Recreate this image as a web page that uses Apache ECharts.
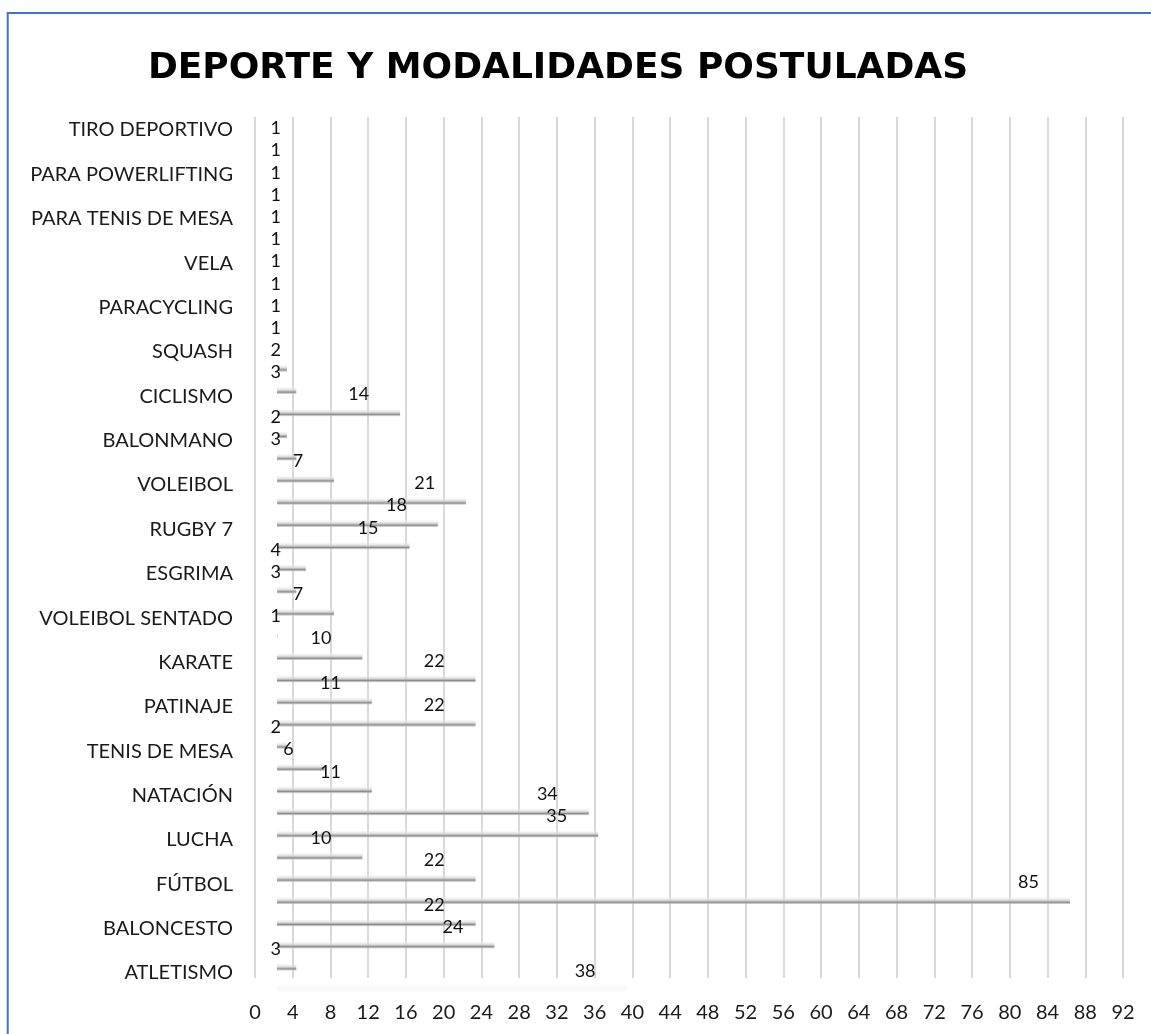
<!DOCTYPE html>
<html>
<head>
<meta charset="utf-8">
<title>Deporte y modalidades postuladas</title>
<script src="https://cdn.jsdelivr.net/npm/echarts@6/dist/echarts.min.js"></script>
<style>
  html, body { margin: 0; padding: 0; background: #ffffff; }
  #chart { width: 1151px; height: 1034px; }
</style>
</head>
<body>
<div id="chart"></div>
<script>
// Sports shown on the vertical axis, top to bottom
const deportes = [
  'TIRO DEPORTIVO', 'PARA POWERLIFTING', 'PARA TENIS DE MESA', 'VELA', 'PARACYCLING',
  'SQUASH', 'CICLISMO', 'BALONMANO', 'VOLEIBOL', 'RUGBY 7', 'ESGRIMA',
  'VOLEIBOL SENTADO', 'KARATE', 'PATINAJE', 'TENIS DE MESA', 'NATACIÓN',
  'LUCHA', 'FÚTBOL', 'BALONCESTO', 'ATLETISMO'
];

// Applications per modality, one bar each, in drawing order (top to bottom)
const postulaciones = [
  1, 1, 1, 1, 1, 1, 1, 1, 1, 1,
  2, 3, 14, 2, 3, 7, 21, 18, 15, 4,
  3, 7, 1, 10, 22, 11, 22, 2, 6, 11,
  34, 35, 10, 22, 85, 22, 24, 3, 38
];

// Value axis ticks
const ejeMin = 0;
const ejeMax = 92;
const ejeIntervalo = 4;

const FONT = 'Lato, "Noto Sans", sans-serif';
const barSlots = postulaciones.map((_, i) => 'm' + (i + 1));

const chart = echarts.init(document.getElementById('chart'), null, { renderer: 'canvas' });

const barGradient = new echarts.graphic.LinearGradient(0, 0, 0, 1, [
  { offset: 0.0, color: 'rgba(245,245,245,0.25)' },
  { offset: 0.45, color: 'rgba(210,210,210,0.8)' },
  { offset: 0.75, color: 'rgba(140,140,140,1)' },
  { offset: 1.0, color: 'rgba(200,200,200,0.6)' }
]);

const option = {
  backgroundColor: '#ffffff',
  animation: false,
  title: {
    text: 'DEPORTE Y MODALIDADES POSTULADAS',
    left: 553,
    top: 46,
    textAlign: 'center',
    textStyle: {
      fontFamily: '"DejaVu Sans", sans-serif',
      fontWeight: 'bold',
      fontSize: 36,
      color: '#000000'
    }
  },
  graphic: [
    {
      type: 'polyline',
      silent: true,
      shape: { points: [[7.7, 1034], [7.7, 13], [1151, 13]] },
      style: { stroke: '#4472C4', lineWidth: 2, fill: null }
    }
  ],
  grid: [
    // gridlines and value labels
    { left: 255, right: 28, top: 117, bottom: 56, containLabel: false },
    // sport names
    { left: 255, right: 28, top: 107.8, bottom: 38.8, containLabel: false },
    // bars
    { left: 277, right: 28, top: 135.4, bottom: 33.6, containLabel: false }
  ],
  xAxis: [
    {
      gridIndex: 0, type: 'value', min: ejeMin, max: ejeMax, interval: ejeIntervalo,
      axisLine: { show: false }, axisTick: { show: false },
      splitLine: { show: true, lineStyle: { color: '#d9d9d9', width: 2 } },
      axisLabel: { margin: 25, fontFamily: FONT, fontSize: 20, color: '#1a1a1a' }
    },
    { gridIndex: 1, type: 'value', show: false, min: ejeMin, max: ejeMax },
    { gridIndex: 2, type: 'value', show: false, min: 0.95, max: 90.62, splitLine: { show: false } }
  ],
  yAxis: [
    { gridIndex: 0, type: 'category', data: deportes, inverse: true, show: false },
    {
      gridIndex: 1, type: 'category', data: deportes, inverse: true,
      axisLine: { show: false }, axisTick: { show: false }, splitLine: { show: false },
      axisLabel: { margin: 22, fontFamily: FONT, fontSize: 20, color: '#1a1a1a' }
    },
    { gridIndex: 2, type: 'category', data: barSlots, inverse: true, show: false }
  ],
  series: [
    {
      type: 'bar',
      xAxisIndex: 2,
      yAxisIndex: 2,
      barWidth: 7,
      clip: true,
      data: postulaciones.map((v, i) => ({
        value: v,
        itemStyle: i === postulaciones.length - 1
          ? { color: 'rgba(238,238,238,0.3)' }
          : undefined
      })),
      itemStyle: { color: barGradient },
      label: {
        show: true,
        position: 'insideRight',
        fontFamily: FONT,
        fontSize: 18,
        color: '#111111',
        formatter: p => String(p.value)
      },
      labelLayout: function (p) {
        const r = p.rect;
        return {
          x: Math.max(r.x + r.width - 31, 281),
          y: r.y + r.height / 2 - 18,
          align: 'right',
          verticalAlign: 'middle'
        };
      }
    }
  ]
};

chart.setOption(option);
</script>
</body>
</html>
